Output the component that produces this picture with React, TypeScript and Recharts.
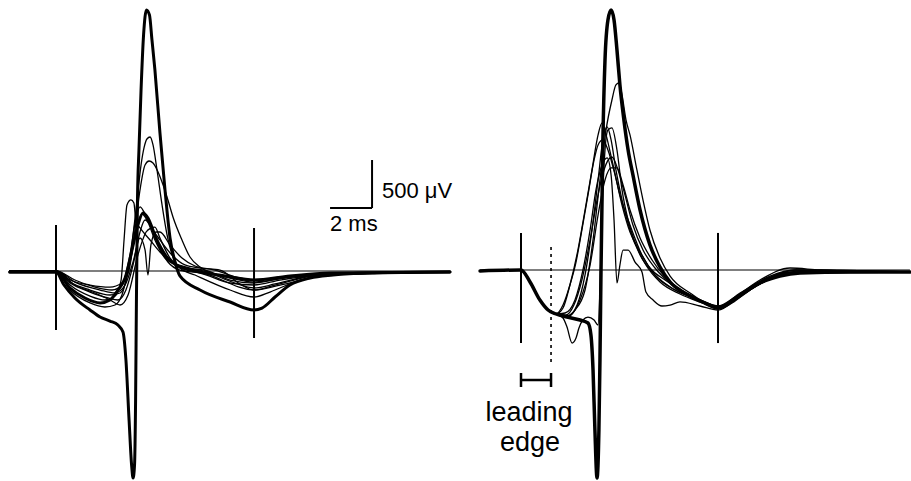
import React from "react";
import { LineChart, Line, XAxis, YAxis, ReferenceLine } from "recharts";

// Extracellular spike waveforms. t in ms (0 = onset marker), v in µV.
// Left panel: 10 superimposed waveforms
const left1 = [[-2.2,-10],[0,-10],[0.38,-146],[0.9,-281],[1.62,-406],[2.1,-479],[2.57,-521],[2.95,-563],[3.19,-636],[3.33,-927],[3.48,-1553],[3.6,-2022],[3.67,-2157],[3.74,-2022],[3.79,-1344],[3.83,-302],[3.88,740],[3.95,1261],[4.05,1886],[4.17,2459],[4.31,2720],[4.45,2668],[4.57,2407],[4.71,2094],[4.95,1438],[5.19,844],[5.43,344],[5.67,94],[5.9,-52],[6.86,-198],[8.29,-323],[9.43,-406],[9.81,-386],[10.43,-271],[11.14,-146],[12.1,-73],[13.19,-42],[14.81,-21],[18.76,-10]];
const left2 = [[-2.2,0],[0,0],[0.67,-115],[1.62,-198],[2.57,-250],[3.05,-229],[3.43,-10],[3.67,375],[3.86,740],[4.05,1105],[4.19,1282],[4.33,1375],[4.48,1396],[4.62,1313],[4.81,1052],[5.05,688],[5.29,375],[5.57,146],[5.9,31],[6.62,-42],[8.29,-198],[9.43,-271],[10.19,-219],[11.62,-94],[13.52,-31],[18.76,-10]];
const left3 = [[-2.2,0],[0,0],[0.67,-94],[1.62,-146],[2.57,-167],[3.14,-125],[3.48,10],[3.76,427],[4.0,844],[4.24,1105],[4.43,1146],[4.62,1125],[4.86,1032],[5.1,896],[5.33,740],[5.57,563],[6.0,323],[6.38,146],[6.86,42],[7.57,-42],[8.52,-125],[9.43,-177],[10.43,-135],[12.1,-52],[14.48,-21],[18.76,-10]];
const left4 = [[-2.2,0],[0,0],[0.67,-146],[1.62,-261],[2.33,-302],[2.81,-261],[3.1,-94],[3.24,323],[3.38,688],[3.57,740],[3.71,709],[3.81,511],[4.0,448],[4.48,323],[4.95,198],[5.52,94],[6.38,31],[7.33,-42],[9.43,-198],[10.67,-146],[13.05,-42],[18.76,-10]];
const left5 = [[-2.2,0],[0,0],[0.67,-125],[1.62,-219],[2.48,-281],[2.95,-302],[3.33,-198],[3.67,63],[4.0,406],[4.24,531],[4.48,479],[4.86,271],[5.33,94],[5.9,10],[6.86,-21],[8.29,-125],[9.43,-146],[10.67,-94],[13.05,-31],[18.76,-10]];
const left6 = [[-2.2,0],[0,0],[0.9,-146],[1.86,-229],[2.57,-302],[3.05,-354],[3.43,-250],[3.9,167],[4.29,406],[4.52,448],[4.71,458],[4.95,344],[5.43,135],[6.14,31],[7.1,10],[8.29,-94],[9.43,-125],[11.14,-63],[18.76,-10]];
const left7 = [[-2.2,0],[0,0],[0.9,-115],[2.1,-198],[2.81,-229],[3.29,-146],[3.67,94],[4.0,344],[4.24,219],[4.38,-42],[4.52,271],[4.76,406],[4.95,406],[5.43,271],[6.0,135],[6.62,52],[7.57,10],[8.76,-73],[9.43,-94],[11.14,-52],[18.76,-10]];
const left8 = [[-2.2,0],[0,0],[0.67,-198],[1.62,-333],[2.33,-375],[2.81,-354],[3.14,-250],[3.52,94],[3.86,448],[4.1,594],[4.33,531],[4.71,323],[5.19,135],[5.9,52],[6.86,10],[8.29,-73],[9.43,-115],[11.62,-52],[18.76,-10]];
const left9 = [[-2.2,0],[0,0],[0.9,-94],[1.86,-167],[2.67,-198],[3.14,-146],[3.52,167],[3.81,552],[4.0,667],[4.19,615],[4.48,479],[4.95,323],[5.52,167],[6.14,63],[6.86,31],[7.81,10],[8.76,-135],[9.43,-198],[10.43,-146],[12.57,-42],[18.76,-10]];
const left10 = [[-2.2,-10],[0,-10],[0.67,-177],[1.38,-281],[2.1,-333],[2.57,-302],[2.95,-198],[3.29,-73],[3.62,219],[3.9,479],[4.14,604],[4.38,552],[4.76,344],[5.24,156],[5.9,42],[6.86,-10],[8.05,-52],[9.43,-94],[11.14,-52],[13.05,-21],[18.76,-10]];

// Right panel: 9 superimposed waveforms
const right1 = [[-1.95,-10],[0,0],[0.43,-125],[0.9,-313],[1.29,-417],[1.67,-458],[2.19,-490],[2.81,-521],[3.19,-552],[3.33,-677],[3.43,-1042],[3.52,-1667],[3.62,-2167],[3.71,-1667],[3.76,-938],[3.81,0],[3.9,1355],[4.0,2188],[4.14,2605],[4.29,2709],[4.43,2605],[4.57,2292],[4.71,1928],[4.9,1563],[5.1,1250],[5.33,990],[5.67,625],[6.14,261],[6.62,31],[7.1,-125],[8.05,-271],[8.76,-344],[9.38,-396],[9.95,-344],[10.67,-229],[11.38,-135],[12.33,-63],[13.29,-31],[15.67,-21],[18.52,-21]];
const right2 = [[-1.95,-10],[0,0],[0.43,-125],[0.9,-313],[1.29,-417],[1.67,-458],[2.14,-479],[2.57,-417],[3.05,-208],[3.43,313],[3.76,938],[4.05,1459],[4.33,1771],[4.52,1928],[4.67,1949],[4.81,1824],[5.0,1563],[5.19,1407],[5.52,1042],[5.81,729],[6.14,417],[6.62,125],[7.1,-63],[8.05,-240],[9.38,-386],[10.43,-261],[11.86,-94],[13.29,-31],[18.52,-21]];
const right3 = [[-1.95,-10],[0,0],[0.43,-125],[0.9,-313],[1.29,-417],[1.67,-458],[2.0,-396],[2.33,-156],[2.71,208],[3.05,625],[3.38,1042],[3.67,1407],[3.86,1532],[4.05,1407],[4.33,1146],[4.71,782],[5.19,469],[5.76,156],[6.38,-52],[7.33,-208],[8.52,-313],[9.38,-375],[10.19,-281],[11.38,-104],[12.81,21],[14.24,0],[18.52,-21]];
const right4 = [[-1.95,-10],[0,0],[0.43,-125],[0.9,-313],[1.29,-417],[1.67,-458],[2.19,-490],[2.67,-365],[3.05,-52],[3.38,417],[3.67,938],[3.9,1355],[4.1,1490],[4.29,1355],[4.52,1042],[4.81,729],[5.19,417],[5.67,156],[6.24,-21],[7.1,-177],[8.29,-292],[9.38,-386],[10.43,-250],[11.86,-63],[13.05,0],[18.52,-21]];
const right5 = [[-1.95,-10],[0,0],[0.43,-125],[0.9,-313],[1.29,-417],[1.67,-458],[2.1,-448],[2.57,-313],[2.95,0],[3.29,417],[3.57,834],[3.86,1094],[4.1,1167],[4.29,990],[4.43,521],[4.57,-135],[4.71,52],[4.86,208],[5.1,208],[5.43,83],[5.76,-21],[5.95,-229],[6.29,-313],[6.71,-375],[7.1,-365],[7.57,-333],[8.52,-375],[9.38,-417],[10.43,-271],[11.62,-104],[12.81,-21],[18.52,-21]];
const right6 = [[-1.95,-10],[0,0],[0.43,-125],[0.9,-313],[1.29,-417],[1.67,-458],[2.0,-500],[2.19,-594],[2.43,-761],[2.62,-709],[2.76,-604],[2.95,-521],[3.19,-490],[3.48,-521],[3.67,-573],[3.76,-208],[3.86,625],[4.0,1250],[4.14,1459],[4.33,1480],[4.57,1250],[4.81,834],[5.1,521],[5.48,261],[5.95,52],[6.62,-125],[7.57,-250],[8.52,-333],[9.38,-396],[10.67,-229],[12.1,-73],[13.29,-10],[18.52,-21]];
const right7 = [[-1.95,-10],[0,0],[0.43,-125],[0.9,-313],[1.29,-417],[1.67,-458],[2.14,-469],[2.52,-365],[2.9,-104],[3.29,313],[3.62,729],[3.95,1042],[4.33,1177],[4.62,1042],[4.95,782],[5.33,469],[5.81,208],[6.38,21],[7.1,-135],[8.29,-292],[9.38,-386],[10.43,-240],[11.86,-73],[13.29,-21],[18.52,-21]];
const right8 = [[-1.95,-10],[0,0],[0.43,-125],[0.9,-313],[1.29,-417],[1.67,-458],[2.24,-479],[2.81,-313],[3.29,52],[3.67,573],[4.0,938],[4.29,1063],[4.57,1063],[4.86,886],[5.19,625],[5.67,333],[6.24,104],[6.86,-73],[7.81,-229],[8.76,-333],[9.38,-375],[10.19,-313],[11.14,-177],[12.33,-52],[13.76,-21],[18.52,-21]];
const right9 = [[-1.95,-10],[0,0],[0.43,-125],[0.9,-313],[1.29,-417],[1.67,-458],[2.0,-365],[2.33,-156],[2.62,83],[2.9,417],[3.19,782],[3.48,1146],[3.67,1303],[3.9,1355],[4.14,1250],[4.48,990],[4.81,677],[5.19,396],[5.67,188],[6.14,21],[6.86,-104],[8.05,-261],[9.38,-386],[10.67,-240],[11.86,-83],[13.05,0],[18.52,-21]];

const leftTraces = [left1, left2, left3, left4, left5, left6, left7, left8, left9, left10];
const rightTraces = [right1, right2, right3, right4, right5, right6, right7, right8, right9];
const thickLeft = [0, 9];
const thickRight = [0];

// markers (ms) and the "leading edge" end
const leftMarks = [0, 9.43];
const rightMarks = [0, 9.38];
const leadingEdgeEnd = 1.43;

// scale bar: 2 ms by 500 µV
const barMs = 2;
const barUv = 500;

const UV_PER_PX = 500 / 48;
const MS_PER_PX = 1 / 21;

type Pt = { t: number; v: number };
const pts = (a: number[][]): Pt[] => a.map(([t, v]) => ({ t, v }));

const lineProps = {
  type: "monotone" as const,
  dataKey: "v",
  stroke: "#000",
  dot: false,
  activeDot: false,
  isAnimationActive: false,
  strokeLinejoin: "round" as const,
  strokeLinecap: "round" as const,
};

const H = 481;

export default function App() {
  const leftY: [number, number] = [-(H - 271) * UV_PER_PX, 271 * UV_PER_PX];
  const rightY: [number, number] = [-(H - 270) * UV_PER_PX, 270 * UV_PER_PX];
  const leftX: [number, number] = [-56 * MS_PER_PX, 404 * MS_PER_PX];
  const rightX: [number, number] = [-61 * MS_PER_PX, 390 * MS_PER_PX];
  const barT = 15.05;
  const barV = 656;

  return (
    <div style={{ position: "absolute", left: 0, top: 0, width: 911, height: H, background: "#fff" }}>
      <div style={{ position: "absolute", left: 0, top: 0 }}>
        <LineChart width={460} height={H} margin={{ top: 0, right: 0, bottom: 0, left: 0 }}>
          <XAxis type="number" dataKey="t" domain={leftX} hide allowDataOverflow />
          <YAxis type="number" domain={leftY} hide allowDataOverflow />
          <ReferenceLine segment={[{ x: -2.2, y: 0 }, { x: 18.76, y: 0 }]} stroke="#000" strokeWidth={1.2} />
          <ReferenceLine segment={[{ x: leftMarks[0], y: 479 }, { x: leftMarks[0], y: -615 }]} stroke="#000" strokeWidth={2} />
          <ReferenceLine segment={[{ x: leftMarks[1], y: 448 }, { x: leftMarks[1], y: -698 }]} stroke="#000" strokeWidth={2} />
          <ReferenceLine segment={[{ x: barT, y: barV }, { x: barT, y: barV + barUv }]} stroke="#000" strokeWidth={2} />
          <ReferenceLine segment={[{ x: barT - barMs, y: barV }, { x: barT, y: barV }]} stroke="#000" strokeWidth={2} />
          {leftTraces.map((d, i) => (
            <Line key={i} {...lineProps} data={pts(d)} strokeWidth={thickLeft.includes(i) ? 3 : 1.3} />
          ))}
        </LineChart>
      </div>
      <div style={{ position: "absolute", left: 460, top: 0 }}>
        <LineChart width={451} height={H} margin={{ top: 0, right: 0, bottom: 0, left: 0 }}>
          <XAxis type="number" dataKey="t" domain={rightX} hide allowDataOverflow />
          <YAxis type="number" domain={rightY} hide allowDataOverflow />
          <ReferenceLine segment={[{ x: -1.95, y: 0 }, { x: 18.52, y: 0 }]} stroke="#000" strokeWidth={1.2} />
          {rightMarks.map((m) => (
            <ReferenceLine key={m} segment={[{ x: m, y: 386 }, { x: m, y: -761 }]} stroke="#000" strokeWidth={2} />
          ))}
          <ReferenceLine segment={[{ x: leadingEdgeEnd, y: 240 }, { x: leadingEdgeEnd, y: -969 }]} stroke="#000" strokeWidth={1.6} strokeDasharray="3 4" />
          <ReferenceLine segment={[{ x: 0, y: -1146 }, { x: leadingEdgeEnd, y: -1146 }]} stroke="#000" strokeWidth={2.5} />
          <ReferenceLine segment={[{ x: 0, y: -1073 }, { x: 0, y: -1219 }]} stroke="#000" strokeWidth={2.5} />
          <ReferenceLine segment={[{ x: leadingEdgeEnd, y: -1073 }, { x: leadingEdgeEnd, y: -1219 }]} stroke="#000" strokeWidth={2.5} />
          {rightTraces.map((d, i) => (
            <Line key={i} {...lineProps} data={pts(d)} strokeWidth={thickRight.includes(i) ? 3.5 : 1.3} />
          ))}
        </LineChart>
      </div>
      <svg width={911} height={H} style={{ position: "absolute", left: 0, top: 0, pointerEvents: "none" }}>
        <g fontFamily="'Liberation Sans', Arial, Helvetica, sans-serif" fill="#000">
          <text x={382} y={198} fontSize={22}>500 μV</text>
          <text x={330} y={231} fontSize={22}>2 ms</text>
          <text x={529} y={421} fontSize={27} textAnchor="middle">leading</text>
          <text x={530} y={451} fontSize={27} textAnchor="middle">edge</text>
        </g>
      </svg>
    </div>
  );
}
